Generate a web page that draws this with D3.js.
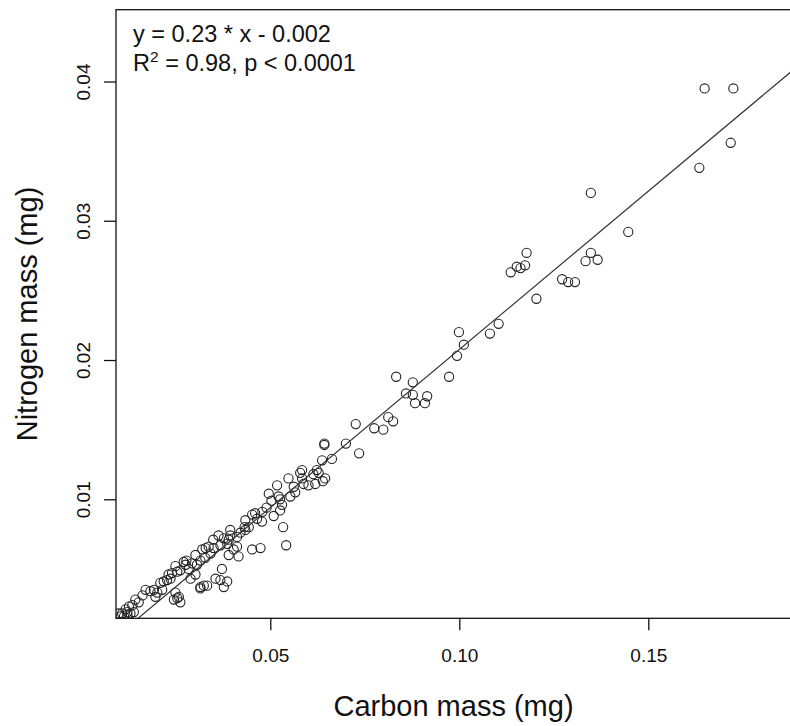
<!DOCTYPE html>
<html>
<head>
<meta charset="utf-8">
<script src="https://cdn.jsdelivr.net/npm/d3@7"></script>
<style>
  body { margin: 0; background: #fff; }
  svg { display: block; font-family: "Liberation Sans", Arial, sans-serif; }
</style>
</head>
<body>
<svg width="790" height="726"></svg>
<script>
// carbon (x) and nitrogen (y) mass per sample, mg
var carbon = [0.1649,0.1725,0.1718,0.1635,0.1348,0.1447,0.1178,0.1174,0.1162,0.1136,0.1152,0.1348,0.1334,0.1366,0.1272,0.1288,0.1306,0.1204,0.1104,0.1081,
  0.0999,0.1012,0.0994,0.0973,0.0833,0.0877,0.0859,0.0877,0.0883,0.0909,0.0915,0.0726,0.0775,0.0799,0.0812,0.0825,0.0643,0.0643,0.0700,0.0735,
  0.0663,0.0637,0.0623,0.0628,0.0614,0.0645,0.0639,0.0619,0.0601,0.0584,0.0579,0.0584,0.0588,0.0562,0.0566,0.0553,0.0548,0.0518,0.0496,0.0522,
  0.0526,0.0531,0.0526,0.0509,0.0534,0.0542,0.0452,0.0460,0.0465,0.0478,0.0443,0.0434,0.0421,0.0412,0.0394,0.0390,0.0386,0.0377,0.0363,0.0368,
  0.0350,0.0337,0.0342,0.0412,0.0403,0.0390,0.0416,0.0452,0.0474,0.0372,0.0355,0.0368,0.0386,0.0377,0.0315,0.0324,0.0320,0.0315,0.0328,0.0306,
  0.0293,0.0284,0.0271,0.0278,0.0262,0.0254,0.0249,0.0240,0.0302,0.0289,0.0236,0.0227,0.0218,0.0209,0.0192,0.0183,0.0201,0.0196,0.0249,0.0258,
  0.0245,0.0262,0.0254,0.0152,0.0135,0.0126,0.0117,0.0108,0.0130,0.0122,0.0139,0.0104,0.0113,0.0214,0.0315,0.0333,
  0.0432,0.0490,0.0503,0.0479,0.0434,0.0394,0.0349,0.0329,0.0302,0.0276,0.0231,0.0170,0.0162,0.0143,0.0099,0.0122];
var nitrogen = [0.0395,0.0395,0.0356,0.0338,0.0320,0.0292,0.0277,0.0268,0.0266,0.0263,0.0267,0.0277,0.0271,0.0272,0.0258,0.0256,0.0256,0.0244,0.0226,0.0219,
  0.0220,0.0211,0.0203,0.0188,0.0188,0.0184,0.0176,0.0175,0.0169,0.0169,0.0174,0.0154,0.0151,0.0150,0.0159,0.0156,0.0140,0.0139,0.0140,0.0133,
  0.0129,0.0128,0.0121,0.0119,0.0118,0.0115,0.0113,0.0111,0.0110,0.0121,0.0119,0.0115,0.0111,0.0109,0.0105,0.0102,0.0115,0.0110,0.0104,0.0102,
  0.0100,0.0096,0.0092,0.0088,0.0080,0.0067,0.0089,0.0090,0.0086,0.0084,0.0080,0.0078,0.0076,0.0073,0.0074,0.0071,0.0068,0.0072,0.0074,0.0067,
  0.0065,0.0066,0.0061,0.0066,0.0064,0.0060,0.0059,0.0064,0.0065,0.0050,0.0043,0.0042,0.0041,0.0037,0.0037,0.0038,0.0064,0.0056,0.0058,0.0053,
  0.0054,0.0050,0.0055,0.0056,0.0049,0.0048,0.0052,0.0047,0.0046,0.0043,0.0043,0.0042,0.0041,0.0040,0.0035,0.0034,0.0033,0.0030,0.0033,0.0030,
  0.0028,0.0026,0.0029,0.0026,0.0024,0.0023,0.0021,0.0018,0.0018,0.0017,0.0019,0.0016,0.0016,0.0035,0.0036,0.0038,
  0.0080,0.0094,0.0099,0.0091,0.0085,0.0078,0.0071,0.0065,0.0060,0.0053,0.0046,0.0035,0.0031,0.0028,0.0018,0.0019];

var xTicks = [0.05, 0.10, 0.15];
var yTicks = [0.01, 0.02, 0.03, 0.04];

// fitted line (label rounds it)
var slope = 0.2272, intercept = -0.00196;

var svg = d3.select("svg");
// note: can't call it "top", window.top is read-only
var padL = 116, padR = 791, padT = 9.7, padB = 618.3;

var x = d3.scaleLinear().domain([0.00918, 0.18775]).range([padL, padR]);
var y = d3.scaleLinear().domain([0.001455, 0.045155]).range([padB, padT]);

svg.append("defs").append("clipPath").attr("id", "plotclip")
  .append("rect")
  .attr("x", padL).attr("y", padT)
  .attr("width", padR - padL).attr("height", padB - padT);

var plot = svg.append("g").attr("clip-path", "url(#plotclip)");

// points
plot.selectAll("circle")
  .data(carbon)
  .enter()
  .append("circle")
  .attr("cx", function (d) { return x(d); })
  .attr("cy", function (d, i) { return y(nitrogen[i]); })
  .attr("r", 4.6)
  .attr("fill", "none")
  .attr("stroke", "#222")
  .attr("stroke-width", 1.1);

// regression line across the whole plot region
var xd = x.domain();
plot.append("line")
  .attr("x1", x(xd[0])).attr("y1", y(slope * xd[0] + intercept))
  .attr("x2", x(xd[1])).attr("y2", y(slope * xd[1] + intercept))
  .attr("stroke", "#333")
  .attr("stroke-width", 1.2);

// box
svg.append("rect")
  .attr("x", padL).attr("y", padT)
  .attr("width", padR - padL).attr("height", padB - padT)
  .attr("fill", "none")
  .attr("stroke", "#111")
  .attr("stroke-width", 1.3);

// x axis
var xAxis = d3.axisBottom(x).tickValues(xTicks).tickSize(12).tickFormat(d3.format(".2f"));
var gx = svg.append("g").attr("transform", "translate(0," + padB + ")").call(xAxis);
gx.select(".domain").remove();
gx.selectAll(".tick line").attr("stroke", "#111").attr("stroke-width", 1.3);
gx.selectAll(".tick text")
  .attr("y", 43.4).attr("dy", null)
  .attr("fill", "#111")
  .style("font-size", "19px");

// y axis, labels rotated like R's default
var yAxis = d3.axisLeft(y).tickValues(yTicks).tickSize(12).tickFormat(d3.format(".2f"));
var gy = svg.append("g").attr("transform", "translate(" + padL + ",0)").call(yAxis);
gy.select(".domain").remove();
gy.selectAll(".tick line").attr("stroke", "#111").attr("stroke-width", 1.3);
gy.selectAll(".tick text")
  .attr("x", null).attr("dy", null)
  .attr("text-anchor", "middle")
  .attr("transform", "translate(-26.5,0) rotate(-90)")
  .attr("fill", "#111")
  .style("font-size", "19px");

// axis titles
svg.append("text")
  .attr("x", (padL + padR) / 2).attr("y", 716)
  .attr("text-anchor", "middle")
  .attr("fill", "#111")
  .style("font-size", "29px")
  .text("Carbon mass (mg)");

svg.append("text")
  .attr("transform", "translate(37," + (padT + padB) / 2 + ") rotate(-90)")
  .attr("text-anchor", "middle")
  .attr("fill", "#111")
  .style("font-size", "29px")
  .text("Nitrogen mass (mg)");

// equation
svg.append("text")
  .attr("x", 133).attr("y", 41.7)
  .attr("fill", "#111")
  .style("font-size", "23.5px")
  .text("y = 0.23 * x - 0.002");

var eq2 = svg.append("text")
  .attr("x", 133).attr("y", 70.7)
  .attr("fill", "#111")
  .style("font-size", "23.5px");
eq2.append("tspan").text("R");
eq2.append("tspan").attr("dy", -9).style("font-size", "15.5px").text("2");
eq2.append("tspan").attr("dy", 9).text(" = 0.98, p < 0.0001");
</script>
</body>
</html>
